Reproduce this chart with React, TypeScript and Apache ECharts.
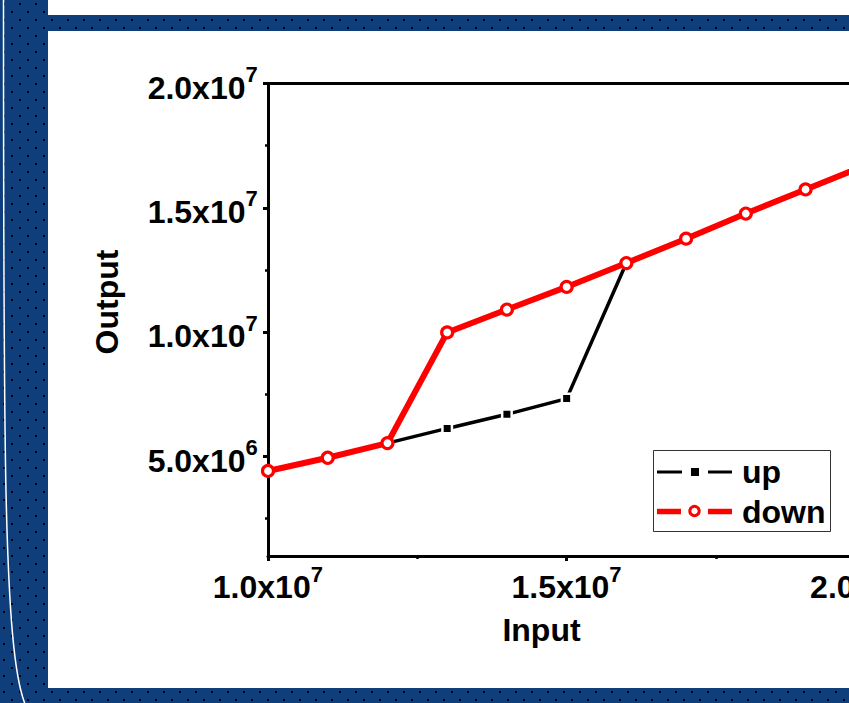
import React, { useEffect, useRef } from 'react';
import * as echarts from 'echarts';

// ---- data ----
const seriesNames = ['up', 'down'];
const inputs = [1.0e7, 1.1e7, 1.2e7, 1.3e7, 1.4e7, 1.5e7, 1.6e7, 1.7e7, 1.8e7, 1.9e7, 2.0e7];
const upOutput = [4.42e6, 4.95e6, 5.54e6, 6.13e6, 6.7e6, 7.33e6, 12.78e6, 13.76e6, 14.77e6, 15.74e6, 16.7e6];
const downOutput = [4.42e6, 4.95e6, 5.54e6, 9.99e6, 10.91e6, 11.82e6, 12.78e6, 13.76e6, 14.77e6, 15.74e6, 16.7e6];
const xTicks = [1.0e7, 1.5e7, 2.0e7];
const yTicks = [5.0e6, 1.0e7, 1.5e7, 2.0e7];
const xTitle = 'Input';
const yTitle = 'Output';

const FONT = '"Liberation Sans", Arial, sans-serif';

const sci = (v: number) => {
  const e = Math.floor(Math.log10(v) + 1e-9);
  const m = v / Math.pow(10, e);
  return `{b|${m.toFixed(1)}x10}{s|${e}}{h| }`;
};

const rich: any = {
  b: { fontSize: 32, fontWeight: 'bold', fontFamily: FONT, color: '#000', lineHeight: 32, verticalAlign: 'bottom' },
  s: { fontSize: 22, fontWeight: 'bold', fontFamily: FONT, color: '#000', lineHeight: 22, verticalAlign: 'top' },
  h: { fontSize: 1, lineHeight: 40 },
};

const dots =
  "url(\"data:image/svg+xml,%3Csvg xmlns='http://www.w3.org/2000/svg' width='16' height='16'%3E%3Crect x='3' y='3' width='2' height='2' fill='%23000'/%3E%3Crect x='11' y='11' width='2' height='2' fill='%23000'/%3E%3C/svg%3E\")";

export default function App() {
  const ref = useRef<HTMLDivElement>(null);
  useEffect(() => {
    if (!ref.current) return;
    const chart = echarts.init(ref.current, undefined, { renderer: 'svg' });
    const axisLineStyle = { color: '#000', width: 3 };
    const option: any = {
      animation: false,
      backgroundColor: 'transparent',
      textStyle: { fontFamily: FONT },
      grid: { left: 268, top: 83.5, width: 657, height: 472.5, outerBoundsMode: 'none', containLabel: false },
      xAxis: [
        {
          type: 'value',
          position: 'bottom',
          min: 1.0e7,
          max: 2.1e7,
          interval: 5e6,
          axisLine: { show: true, onZero: false, lineStyle: axisLineStyle },
          axisTick: { show: true, length: 5, customValues: xTicks, lineStyle: { color: '#000', width: 3 } },
          minorTick: { show: true, splitNumber: 2, length: 3, lineStyle: { color: '#000', width: 2.5 } },
          axisLabel: { customValues: xTicks, formatter: sci, margin: 7, rich },
          splitLine: { show: false },
        },
        {
          type: 'value',
          position: 'top',
          min: 1.0e7,
          max: 2.1e7,
          axisLine: { show: true, onZero: false, lineStyle: axisLineStyle },
          axisTick: { show: false },
          axisLabel: { show: false },
          splitLine: { show: false },
        },
      ],
      yAxis: [
        {
          type: 'value',
          min: 1.0e6,
          max: 2.0e7,
          splitNumber: 4,
          axisLine: { show: true, onZero: false, lineStyle: axisLineStyle },
          axisTick: { show: true, length: 5, customValues: yTicks, lineStyle: { color: '#000', width: 3 } },
          minorTick: { show: true, splitNumber: 2, length: 3, lineStyle: { color: '#000', width: 2.5 } },
          axisLabel: { customValues: yTicks, formatter: sci, margin: 10, rich },
          splitLine: { show: false },
        },
      ],
      series: [
        {
          name: seriesNames[0],
          type: 'line',
          data: inputs.map((x, i) => [x, upOutput[i]]),
          symbol: 'rect',
          symbolSize: 9.5,
          itemStyle: { color: '#000', borderColor: '#fff', borderWidth: 2.5 },
          lineStyle: { color: '#000', width: 3.5 },
          silent: true,
          emphasis: { disabled: true },
          z: 2,
        },
        {
          name: seriesNames[1],
          type: 'line',
          data: inputs.map((x, i) => [x, downOutput[i]]),
          symbol: 'circle',
          symbolSize: 11,
          itemStyle: { color: '#fff', borderColor: '#ff0000', borderWidth: 3.2 },
          lineStyle: { color: '#ff0000', width: 6 },
          silent: true,
          emphasis: { disabled: true },
          z: 3,
        },
      ],
      graphic: [
        {
          type: 'bezierCurve',
          shape: { x1: 3.5, y1: -5, cpx1: 3.5, cpy1: 450, cpx2: 3.5, cpy2: 650, x2: 25, y2: 704 },
          style: { stroke: '#ffffff', lineWidth: 1.5, fill: null },
          silent: true,
        },
        {
          type: 'text',
          x: 541.5,
          y: 630,
          style: { text: xTitle, font: `bold 32px ${FONT}`, fill: '#000', align: 'center', verticalAlign: 'middle' },
          silent: true,
        },
        {
          type: 'text',
          x: 107,
          y: 302,
          rotation: Math.PI / 2,
          style: { text: yTitle, font: `bold 32px ${FONT}`, fill: '#000', align: 'center', verticalAlign: 'middle' },
          silent: true,
        },
        {
          type: 'group',
          silent: true,
          children: [
            {
              type: 'rect',
              shape: { x: 653.5, y: 450.5, width: 177, height: 81 },
              style: { fill: '#fff', stroke: '#333', lineWidth: 1 },
            },
            { type: 'line', shape: { x1: 657, y1: 472, x2: 682, y2: 472 }, style: { stroke: '#000', lineWidth: 3 } },
            { type: 'rect', shape: { x: 691, y: 468, width: 8, height: 8 }, style: { fill: '#000' } },
            { type: 'line', shape: { x1: 708, y1: 472, x2: 732, y2: 472 }, style: { stroke: '#000', lineWidth: 3 } },
            { type: 'line', shape: { x1: 657, y1: 511.5, x2: 681, y2: 511.5 }, style: { stroke: '#ff0000', lineWidth: 5.5 } },
            { type: 'circle', shape: { cx: 694.5, cy: 511, r: 4.7 }, style: { fill: '#fff', stroke: '#ff0000', lineWidth: 3 } },
            { type: 'line', shape: { x1: 708, y1: 511.5, x2: 732, y2: 511.5 }, style: { stroke: '#ff0000', lineWidth: 5.5 } },
            {
              type: 'text',
              x: 742,
              y: 472,
              style: { text: seriesNames[0], font: `bold 32px ${FONT}`, fill: '#000', align: 'left', verticalAlign: 'middle' },
            },
            {
              type: 'text',
              x: 742,
              y: 512,
              style: { text: seriesNames[1], font: `bold 32px ${FONT}`, fill: '#000', align: 'left', verticalAlign: 'middle' },
            },
          ],
        },
      ],
    };
    chart.setOption(option);
    return () => chart.dispose();
  }, []);

  return (
    <div
      style={{
        position: 'fixed',
        left: 0,
        top: 0,
        width: 849,
        height: 703,
        overflow: 'hidden',
        backgroundColor: '#0e3e7c',
        backgroundImage: dots,
        backgroundSize: '16px 16px',
      }}
    >
      <div style={{ position: 'absolute', left: 48, top: 0, width: 801, height: 15, background: '#fff' }} />
      <div style={{ position: 'absolute', left: 48, top: 31, width: 801, height: 657, background: '#fff' }} />
      <div ref={ref} style={{ position: 'absolute', left: 0, top: 0, width: 849, height: 703 }} />
    </div>
  );
}
